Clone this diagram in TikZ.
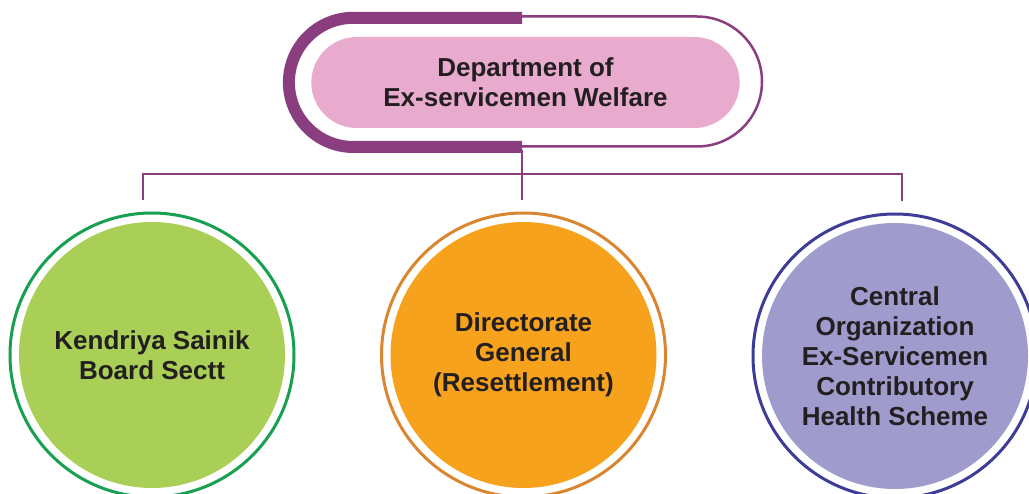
\documentclass[tikz,border=0pt]{standalone}
\usepackage{fontspec}
\setmainfont{Liberation Sans}
\usetikzlibrary{calc}
\usetikzlibrary{shapes.misc}
\usetikzlibrary{positioning}

\definecolor{plum}{HTML}{8B3E7F}
\definecolor{blush}{HTML}{E8ABCE}
\definecolor{lime}{HTML}{A9CF56}
\definecolor{leaf}{HTML}{17A050}
\definecolor{amber}{HTML}{F7A21D}
\definecolor{rust}{HTML}{DA8530}
\definecolor{lavender}{HTML}{9F9BCC}
\definecolor{indigo}{HTML}{3D3D98}
\definecolor{ink}{HTML}{231F20}

\tikzset{
    label text/.style={text=ink, align=center, font=\bfseries\fontsize{26}{30}\selectfont},
    unit/.style={circle, minimum size=266pt, inner sep=0pt, label text, fill=#1},
    ring/.style={line width=3pt, draw=#1},
    link/.style={line width=2.5pt, draw=plum},
}

\begin{document}
\begin{tikzpicture}[x=1pt, y=-1pt]
        \useasboundingbox (0, 0) rectangle (1029, 494);
        \clip (0, 0) rectangle (1029, 494);

        % frame round the head node
        \draw[plum, line width=12pt] (522, 17.8) -- (353.5, 17.8)
            arc[start angle=90, end angle=270, radius=64.6pt] -- (522, 147);
        \draw[plum, line width=2.5pt] (522, 16.5) -- (697, 16.5)
            arc[start angle=90, end angle=-90, radius=65pt] -- (522, 146.5);

        \node[rounded rectangle, fill=blush, minimum width=435pt, minimum height=91pt,
            label text] (dept) at (525.5, 82.5) {Department of\\Ex-servicemen Welfare};

        \node[unit=lime] (ksb) at (152, 355) {Kendriya Sainik\\Board Sectt};
        \node[unit=amber] (dgr) at (523.5, 355) {Directorate\\General\\(Resettlement)};
        \node[unit=lavender] (echs) at (895, 356) {Central\\Organization\\Ex-Servicemen\\Contributory\\Health Scheme};

        \draw[ring=leaf] (ksb.center) circle[radius=142pt];
        \draw[ring=rust] (dgr.center) circle[radius=142pt];
        \draw[ring=indigo] (echs.center) circle[radius=142pt];

        \coordinate (stem) at (522, 150);
        \coordinate (busL) at (143, 174);
        \coordinate (busR) at (902, 174);

        \draw[link] (stem) -- ($(stem |- dgr.north) + (0, -22)$);
        \draw[link] ($(busL |- ksb.north) + (0, -22)$) -- (busL) -- (busR)
            -- ($(busR |- echs.north) + (0, -22)$);
    \end{tikzpicture}
\end{document}
